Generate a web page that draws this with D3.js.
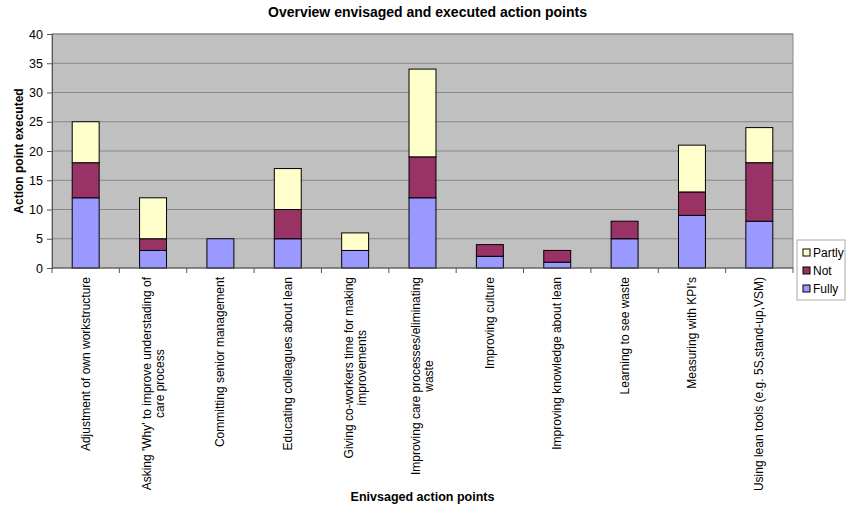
<!DOCTYPE html>
<html>
<head>
<meta charset="utf-8">
<script src="https://cdn.jsdelivr.net/npm/d3@7"></script>
<style>
  body { margin: 0; background: #fff; }
  text { font-family: "Liberation Sans", Arial, sans-serif; fill: #000; }
</style>
</head>
<body>
<div id="chart-container"></div>
<script>
// stacked bars: fully / not / partly per envisaged action point
const categories = [
    "Adjustment of own workstructure",
    "Asking 'Why' to improve understading of\ncare process",
    "Committing senior management",
    "Educating colleagues about lean",
    "Giving co-workers time for making\nimprovements",
    "Improving care processes/eliminating\nwaste",
    "Improving culture",
    "Improving knowledge about lean",
    "Learning to see waste",
    "Measuring with KPI's",
    "Using lean tools (e.g. 5S,stand-up,VSM)"
];
const fully  = [12, 3, 5, 5, 3, 12, 2, 1, 5, 9, 8];
const notDone = [6, 2, 0, 5, 0, 7, 2, 2, 3, 4, 10];
const partly = [7, 7, 0, 7, 3, 15, 0, 0, 0, 8, 6];
const yTicks = [0, 5, 10, 15, 20, 25, 30, 35, 40];

const seriesKeys = ["Fully", "Not", "Partly"];
const colors = { Fully: "#9999ff", Not: "#993366", Partly: "#ffffcc" };

const svgWidth = 851;
const svgHeight = 510;
const margin = { top: 34, right: 58, bottom: 242, left: 52 };
const width = svgWidth - margin.left - margin.right;
const height = svgHeight - margin.top - margin.bottom;

const root = d3.select("#chart-container")
    .append("svg")
    .attr("width", svgWidth)
    .attr("height", svgHeight);

const svg = root.append("g")
    .attr("transform", `translate(${margin.left},${margin.top})`);

const data = categories.map((c, i) => ({ cat: c, Fully: fully[i], Not: notDone[i], Partly: partly[i] }));

const x = d3.scaleBand()
    .domain(categories)
    .range([0, width])
    .paddingInner(0.6)
    .paddingOuter(0.3);

const y = d3.scaleLinear()
    .domain([0, 40])
    .range([height, 0]);

// plot area
svg.append("rect")
    .attr("width", width)
    .attr("height", height)
    .attr("fill", "#c0c0c0")
    .attr("stroke", "#888");

svg.selectAll(".grid")
    .data(yTicks.filter(t => t > 0))
    .enter().append("line")
    .attr("x1", 0).attr("x2", width)
    .attr("y1", d => y(d)).attr("y2", d => y(d))
    .attr("stroke", "#888");

// bars
const stacked = d3.stack().keys(seriesKeys)(data);
svg.selectAll(".layer")
    .data(stacked)
    .enter().append("g")
    .attr("fill", d => colors[d.key])
    .selectAll("rect")
    .data(d => d.filter(s => s[1] - s[0] > 0))
    .enter().append("rect")
    .attr("x", d => x(d.data.cat))
    .attr("width", x.bandwidth())
    .attr("y", d => y(d[1]))
    .attr("height", d => y(d[0]) - y(d[1]))
    .attr("stroke", "#000")
    .attr("stroke-width", 1);

// y axis
const yAxis = svg.append("g")
    .call(d3.axisLeft(y).tickValues(yTicks).tickSize(5).tickPadding(4));
yAxis.select(".domain").attr("stroke", "#555");
yAxis.selectAll(".tick line").attr("stroke", "#555");
yAxis.selectAll("text").style("font-size", "12.5px").attr("font-family", null);

// x axis: ticks between categories
const boundaries = d3.range(categories.length + 1).map(i => i * width / categories.length);
const xAxis = svg.append("g").attr("transform", `translate(0,${height})`);
xAxis.append("line")
    .attr("x1", 0).attr("x2", width)
    .attr("stroke", "#555");
xAxis.selectAll(".xt")
    .data(boundaries)
    .enter().append("line")
    .attr("x1", d => d).attr("x2", d => d)
    .attr("y1", 0).attr("y2", 5)
    .attr("stroke", "#555");

// rotated category labels
const lineH = 13;
categories.forEach(c => {
    const lines = c.split("\n");
    const cx = x(c) + x.bandwidth() / 2;
    const g = xAxis.append("g")
        .attr("transform", `translate(${cx},9) rotate(-90)`);
    const texts = lines.map((ln, j) => g.append("text")
        .text(ln)
        .style("font-size", "12px")
        .attr("text-anchor", "middle")
        .attr("y", (j - (lines.length - 1) / 2) * lineH + 4));
    const maxLen = d3.max(texts, t => t.node().getComputedTextLength());
    texts.forEach(t => t.attr("x", -maxLen / 2));
});

// titles
root.append("text")
    .text("Overview envisaged and executed action points")
    .attr("x", svgWidth / 2 + 2)
    .attr("y", 17)
    .attr("text-anchor", "middle")
    .style("font-size", "14px")
    .style("font-weight", "bold");

root.append("text")
    .text("Action point executed")
    .attr("transform", `translate(23,${margin.top + height / 2}) rotate(-90)`)
    .attr("text-anchor", "middle")
    .style("font-size", "12px")
    .style("font-weight", "bold");

root.append("text")
    .text("Enivsaged action points")
    .attr("x", margin.left + width / 2)
    .attr("y", 501)
    .attr("text-anchor", "middle")
    .style("font-size", "12.5px")
    .style("font-weight", "bold");

// legend
const legend = root.append("g").attr("transform", "translate(797,240)");
legend.append("rect")
    .attr("width", 48).attr("height", 60)
    .attr("fill", "#fff")
    .attr("stroke", "#aaa");
seriesKeys.slice().reverse().forEach((k, i) => {
    const row = legend.append("g").attr("transform", `translate(6,${13 + i * 18})`);
    row.append("rect")
        .attr("x", 0).attr("y", -4)
        .attr("width", 7).attr("height", 7)
        .attr("fill", colors[k])
        .attr("stroke", "#000");
    row.append("text")
        .text(k)
        .attr("x", 10).attr("y", 4)
        .style("font-size", "12px");
});
</script>
</body>
</html>
